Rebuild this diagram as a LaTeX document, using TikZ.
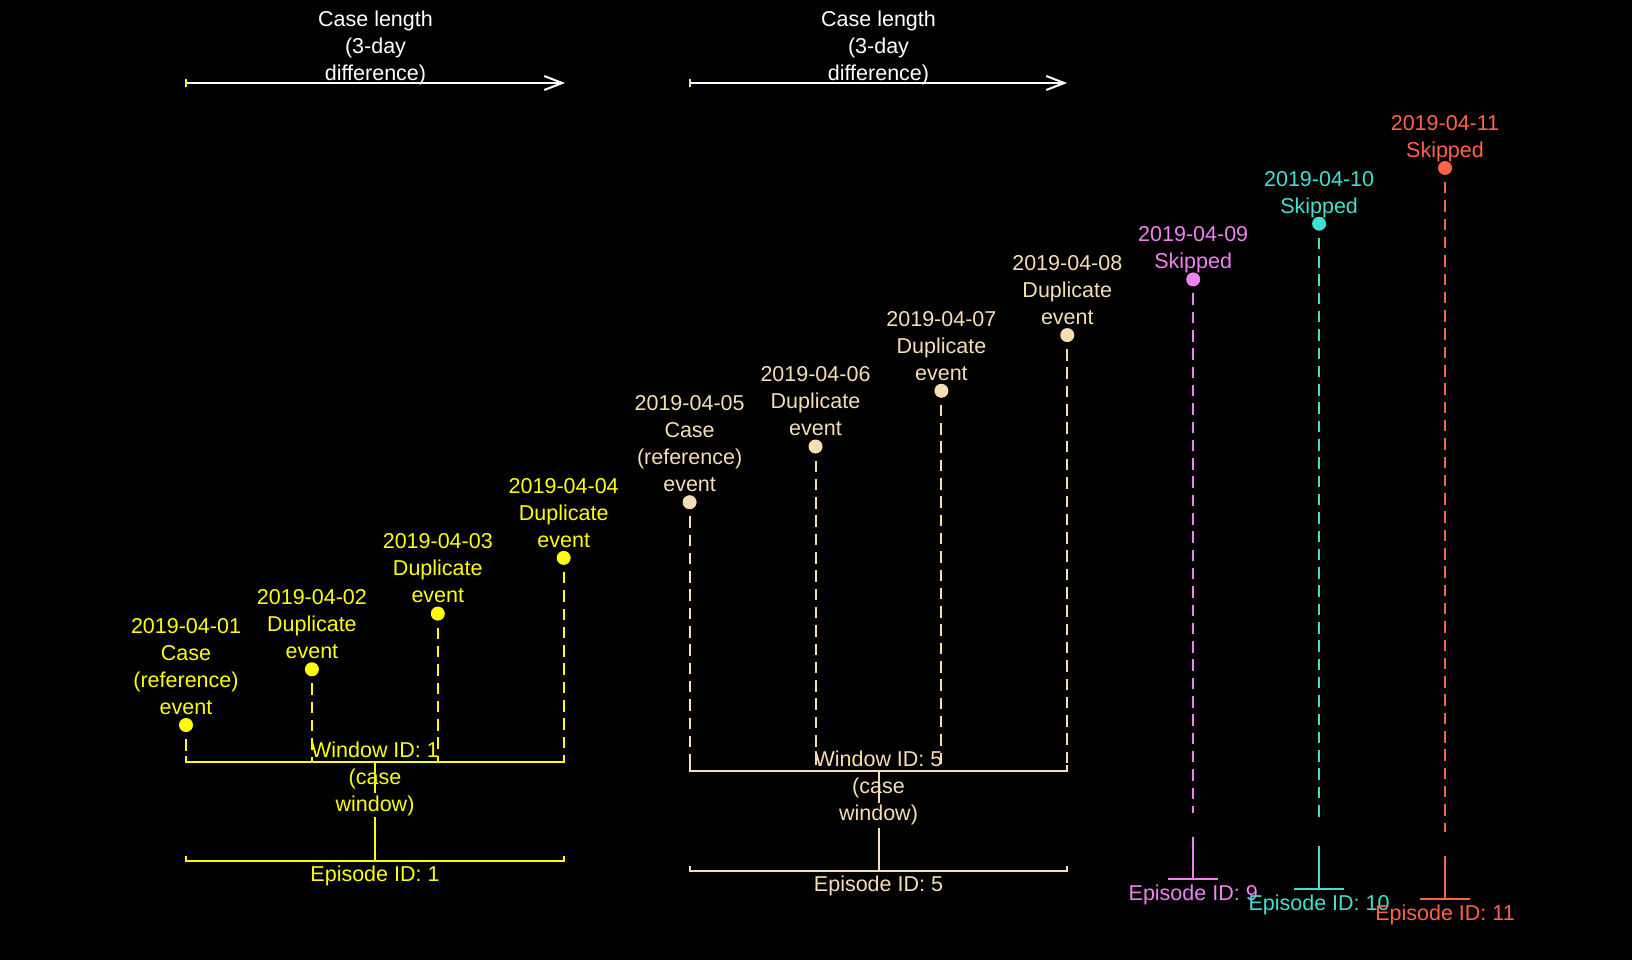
\documentclass[tikz,border=0pt]{standalone}
\usepackage{fontspec}
\setmainfont{Liberation Sans}
\usetikzlibrary{arrows.meta}
\definecolor{cyel}{HTML}{FFFF00}
\definecolor{cwht}{HTML}{F5DEB3}
\definecolor{cvio}{HTML}{EE82EE}
\definecolor{ctur}{HTML}{40E0D0}
\definecolor{ctom}{HTML}{FF6347}
\begin{document}
\begin{tikzpicture}[x=1pt,y=-1pt,
  lbl/.style={font=\fontsize{21.5}{27}\selectfont, align=center, inner sep=0pt},
  evlbl/.style={lbl, anchor=south},
  winlbl/.style={lbl, anchor=north},
  eplbl/.style={lbl, anchor=base},
  dot/.style={circle, fill=#1, draw=none, minimum size=14pt, inner sep=0pt},
  dsh/.style={line width=2pt, dash pattern=on 11.5pt off 6.8pt},
  brk/.style={line width=2pt},
  thinln/.style={line width=1.5pt},
  arr/.style={white, line width=2pt, -{Straight Barb[length=18pt,width=14pt,line width=2pt]}},
  tick/.style={line width=2pt}
]
\fill[black] (0,0) rectangle (1632,960);
\useasboundingbox (0,0) rectangle (1632,960);

% case length arrows
\coordinate (a1s) at (186,83);
\coordinate (a1e) at (565,83);
\coordinate (a2s) at (690,83);
\coordinate (a2e) at (1067,83);
\draw[arr] (a1s) -- (a1e);
\draw[arr] (a2s) -- (a2e);
\draw[tick,cyel] ([yshift=4pt]a1s) -- ([yshift=-4pt]a1s);
\draw[tick,cwht] ([yshift=4pt]a2s) -- ([yshift=-4pt]a2s);
\node[evlbl, text=white] (cl1) at (375.5,89) {\strut Case length\\(3-day\\difference)\strut};
\node[evlbl, text=white] (cl2) at (878.5,89) {\strut Case length\\(3-day\\difference)\strut};

% window coordinates
\coordinate (w1L) at (186,762);
\coordinate (w1R) at (563.7,762);
\coordinate (w5L) at (689.6,771);
\coordinate (w5R) at (1067.3,771);

% event dots
\node[dot=cyel] (e1) at (186.0,725.0) {};
\node[dot=cyel] (e2) at (311.9,669.3) {};
\node[dot=cyel] (e3) at (437.8,613.6) {};
\node[dot=cyel] (e4) at (563.7,557.9) {};
\node[dot=cwht] (e5) at (689.6,502.2) {};
\node[dot=cwht] (e6) at (815.5,446.5) {};
\node[dot=cwht] (e7) at (941.4,390.8) {};
\node[dot=cwht] (e8) at (1067.3,335.1) {};
\node[dot=cvio] (e9) at (1193.2,279.4) {};
\node[dot=ctur] (e10) at (1319.1,223.7) {};
\node[dot=ctom] (e11) at (1445.0,168.0) {};

% dashed drops to window lines
\draw[dsh,cyel] ([yshift=-14pt]e1.center) -- (186,762);
\draw[dsh,cyel] ([yshift=-14pt]e2.center) -- (311.9,762);
\draw[dsh,cyel] ([yshift=-14pt]e3.center) -- (437.8,762);
\draw[dsh,cyel] ([yshift=-14pt]e4.center) -- (563.7,762);
\draw[dsh,cwht] ([yshift=-14pt]e5.center) -- (689.6,771);
\draw[dsh,cwht] ([yshift=-14pt]e6.center) -- (815.5,771);
\draw[dsh,cwht] ([yshift=-14pt]e7.center) -- (941.4,771);
\draw[dsh,cwht] ([yshift=-14pt]e8.center) -- (1067.3,771);
\draw[dsh,cvio] ([yshift=-14pt]e9.center) -- (1193.2,813);
\draw[dsh,ctur] ([yshift=-14pt]e10.center) -- (1319.1,822.7);
\draw[dsh,ctom] ([yshift=-14pt]e11.center) -- (1445.0,831.7);

% episode 1 brackets
\draw[brk,cyel] ([yshift=6pt]w1L) -- (w1L) -- (w1R) -- ([yshift=6pt]w1R);
\draw[brk,cyel] (375,762) -- (375,793);
\draw[brk,cyel] (375,817) -- (375,861);
\draw[brk,cyel] (186,856) -- (186,861) -- (563.7,861) -- (563.7,856);
% episode 5 brackets
\draw[brk,cwht] ([yshift=6pt]w5L) -- (w5L) -- (w5R) -- ([yshift=6pt]w5R);
\draw[brk,cwht] (878.5,771) -- (878.5,803);
\draw[brk,cwht] (878.5,828) -- (878.5,870.5);
\draw[brk,cwht] (689.6,865.5) -- (689.6,870.5) -- (1067.3,870.5) -- (1067.3,865.5);
% skipped episodes
\draw[thinln,cvio] (1193.2,837) -- (1193.2,879);
\draw[thinln,cvio] (1168.2,879) -- (1218.2,879);
\draw[thinln,ctur] (1319.1,846) -- (1319.1,889);
\draw[thinln,ctur] (1294.1,889) -- (1344.1,889);
\draw[thinln,ctom] (1445.0,856) -- (1445.0,899);
\draw[thinln,ctom] (1420.0,899) -- (1470.0,899);

% event labels
\node[evlbl, text=cyel] (t1) at ([yshift=2.4pt]e1.center) {2019-04-01\\Case\\(reference)\\event\strut};
\node[evlbl, text=cyel] (t2) at ([yshift=2.4pt]e2.center) {2019-04-02\\Duplicate\\event\strut};
\node[evlbl, text=cyel] (t3) at ([yshift=2.4pt]e3.center) {2019-04-03\\Duplicate\\event\strut};
\node[evlbl, text=cyel] (t4) at ([yshift=2.4pt]e4.center) {2019-04-04\\Duplicate\\event\strut};
\node[evlbl, text=cwht] (t5) at ([yshift=2.4pt]e5.center) {2019-04-05\\Case\\(reference)\\event\strut};
\node[evlbl, text=cwht] (t6) at ([yshift=2.4pt]e6.center) {2019-04-06\\Duplicate\\event\strut};
\node[evlbl, text=cwht] (t7) at ([yshift=2.4pt]e7.center) {2019-04-07\\Duplicate\\event\strut};
\node[evlbl, text=cwht] (t8) at ([yshift=2.4pt]e8.center) {2019-04-08\\Duplicate\\event\strut};
\node[evlbl, text=cvio] (t9) at ([yshift=2.4pt]e9.center) {2019-04-09\\Skipped\strut};
\node[evlbl, text=ctur] (t10) at ([yshift=2.4pt]e10.center) {2019-04-10\\Skipped\strut};
\node[evlbl, text=ctom] (t11) at ([yshift=2.4pt]e11.center) {2019-04-11\\Skipped\strut};

% window labels
\node[winlbl, text=cyel] (wl1) at (375,738.1) {\strut Window ID: 1\\(case\\window)};
\node[winlbl, text=cwht] (wl5) at (878.5,747.1) {\strut Window ID: 5\\(case\\window)};

% episode labels
\node[eplbl, text=cyel] (ep1) at (375,881) {Episode ID: 1};
\node[eplbl, text=cwht] (ep5) at (878.5,891) {Episode ID: 5};
\node[eplbl, text=cvio] (ep9) at (1193.2,900.5) {Episode ID: 9};
\node[eplbl, text=ctur] (ep10) at (1319.1,910.5) {Episode ID: 10};
\node[eplbl, text=ctom] (ep11) at (1445.0,920.5) {Episode ID: 11};
\end{tikzpicture}
\end{document}
